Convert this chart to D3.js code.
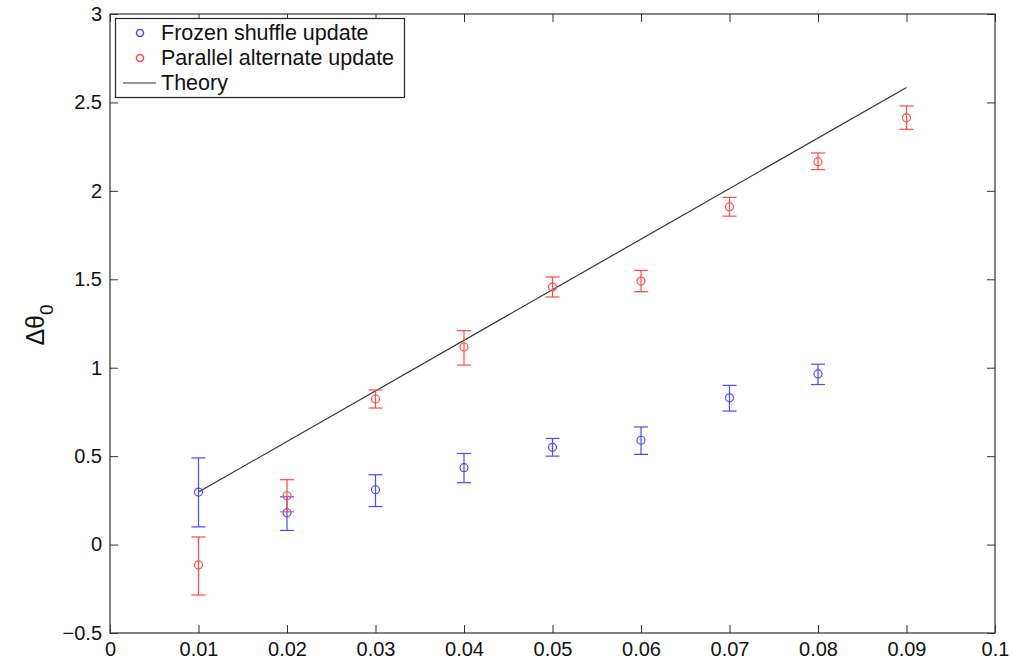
<!DOCTYPE html>
<html>
<head>
<meta charset="utf-8">
<script src="https://cdn.jsdelivr.net/npm/d3@7"></script>
<style>
  body { margin: 0; background: #fff; }
  text { font-family: "Liberation Sans", Arial, sans-serif; }
</style>
</head>
<body>
<svg id="chart" width="1012" height="660"></svg>
<script>
// data
const xs = [0.01, 0.02, 0.03, 0.04, 0.05, 0.06, 0.07, 0.08, 0.09];

const frozenX = [0.01, 0.02, 0.03, 0.04, 0.05, 0.06, 0.07, 0.08];
const frozenY = [0.297, 0.18, 0.31, 0.435, 0.55, 0.59, 0.83, 0.965];
const frozenLo = [0.10, 0.08, 0.215, 0.35, 0.50, 0.51, 0.755, 0.905];
const frozenHi = [0.49, 0.27, 0.395, 0.515, 0.60, 0.665, 0.90, 1.02];

const parallelY = [-0.115, 0.276, 0.823, 1.117, 1.456, 1.49, 1.91, 2.165, 2.413];
const parallelLo = [-0.285, 0.185, 0.772, 1.015, 1.40, 1.43, 1.857, 2.12, 2.348];
const parallelHi = [0.043, 0.367, 0.874, 1.21, 1.513, 1.55, 1.963, 2.214, 2.48];

const theoryX = [0.01, 0.09];
const theoryY = [0.297, 2.585];

const xTicks = [0, 0.01, 0.02, 0.03, 0.04, 0.05, 0.06, 0.07, 0.08, 0.09, 0.1];
const yTicks = [-0.5, 0, 0.5, 1, 1.5, 2, 2.5, 3];

const margin = {left: 110, top: 14, right: 17, bottom: 27};
const W = 1012, H = 660;

const svg = d3.select('#chart');

const x = d3.scaleLinear().domain([0, 0.1]).range([margin.left, W - margin.right]);
const y = d3.scaleLinear().domain([-0.5, 3]).range([H - margin.bottom, margin.top]);

const tickLen = 8;
const fmt = d => d === 0 ? '0' : String(d).replace('-', '\u2212');

// axes, ticks pointing inward like matlab
svg.append('g')
    .attr('transform', `translate(0,${y(-0.5)})`)
    .call(d3.axisBottom(x).tickValues(xTicks).tickSize(-tickLen).tickPadding(9).tickFormat(fmt))
    .call(g => g.select('.domain').remove());
svg.append('g')
    .attr('transform', `translate(0,${y(3)})`)
    .call(d3.axisTop(x).tickValues(xTicks).tickSize(-tickLen).tickFormat(''))
    .call(g => g.select('.domain').remove());
svg.append('g')
    .attr('transform', `translate(${x(0)},0)`)
    .call(d3.axisLeft(y).tickValues(yTicks).tickSize(-tickLen).tickPadding(8).tickFormat(fmt))
    .call(g => g.select('.domain').remove());
svg.append('g')
    .attr('transform', `translate(${x(0.1)},0)`)
    .call(d3.axisRight(y).tickValues(yTicks).tickSize(-tickLen).tickFormat(''))
    .call(g => g.select('.domain').remove());

svg.selectAll('.tick line').attr('stroke', '#333');
svg.selectAll('.tick text').attr('font-size', 20).attr('fill', '#111')
    .attr('font-family', '"Liberation Sans", Arial, sans-serif');

svg.append('rect')
    .attr('x', x(0)).attr('y', y(3))
    .attr('width', x(0.1) - x(0)).attr('height', y(-0.5) - y(3))
    .attr('fill', 'none').attr('stroke', '#333').attr('stroke-width', 1.2);

// theory
svg.append('path')
    .datum(theoryX.map((v, i) => [v, theoryY[i]]))
    .attr('d', d3.line().x(d => x(d[0])).y(d => y(d[1])))
    .attr('fill', 'none').attr('stroke', '#333').attr('stroke-width', 1.2);

function drawSeries(xv, yv, lo, hi, color) {
    const g = svg.append('g').attr('stroke', color).attr('fill', 'none').attr('stroke-width', 1.2);
    const cap = 7;
    xv.forEach((xx, i) => {
        const cx = x(xx);
        g.append('line').attr('x1', cx).attr('x2', cx).attr('y1', y(lo[i])).attr('y2', y(hi[i]));
        g.append('line').attr('x1', cx - cap).attr('x2', cx + cap).attr('y1', y(lo[i])).attr('y2', y(lo[i]));
        g.append('line').attr('x1', cx - cap).attr('x2', cx + cap).attr('y1', y(hi[i])).attr('y2', y(hi[i]));
    });
    g.selectAll('circle').data(xv).enter().append('circle')
        .attr('cx', d => x(d)).attr('cy', (d, i) => y(yv[i])).attr('r', 4);
}

drawSeries(frozenX, frozenY, frozenLo, frozenHi, '#4b4bff');
drawSeries(xs, parallelY, parallelLo, parallelHi, '#ff4b4b');

// legend
const leg = svg.append('g');
leg.append('rect').attr('x', 115.5).attr('y', 18.5).attr('width', 289).attr('height', 79)
    .attr('fill', '#fff').attr('stroke', '#222').attr('stroke-width', 1.2);
const legItems = [
    {label: 'Frozen shuffle update', color: '#4b4bff', type: 'circle'},
    {label: 'Parallel alternate update', color: '#ff4b4b', type: 'circle'},
    {label: 'Theory', color: '#333', type: 'line'}
];
legItems.forEach((d, i) => {
    const cy = 33 + i * 25;
    if (d.type === 'circle') {
        leg.append('circle').attr('cx', 140).attr('cy', cy).attr('r', 3.5)
            .attr('fill', 'none').attr('stroke', d.color).attr('stroke-width', 1.5);
    } else {
        leg.append('line').attr('x1', 123).attr('x2', 156).attr('y1', cy).attr('y2', cy)
            .attr('stroke', d.color).attr('stroke-width', 1.2);
    }
    leg.append('text').attr('x', 161).attr('y', cy + 7).attr('font-size', 21.5).attr('fill', '#111')
        .text(d.label);
});

// y label
const yl = svg.append('text')
    .attr('transform', 'translate(44,325) rotate(-90)')
    .attr('text-anchor', 'middle').attr('font-size', 25).attr('fill', '#111');
yl.append('tspan').text('\u0394\u03b8');
yl.append('tspan').attr('dy', 9).attr('font-size', 19).text('0');
</script>
</body>
</html>
